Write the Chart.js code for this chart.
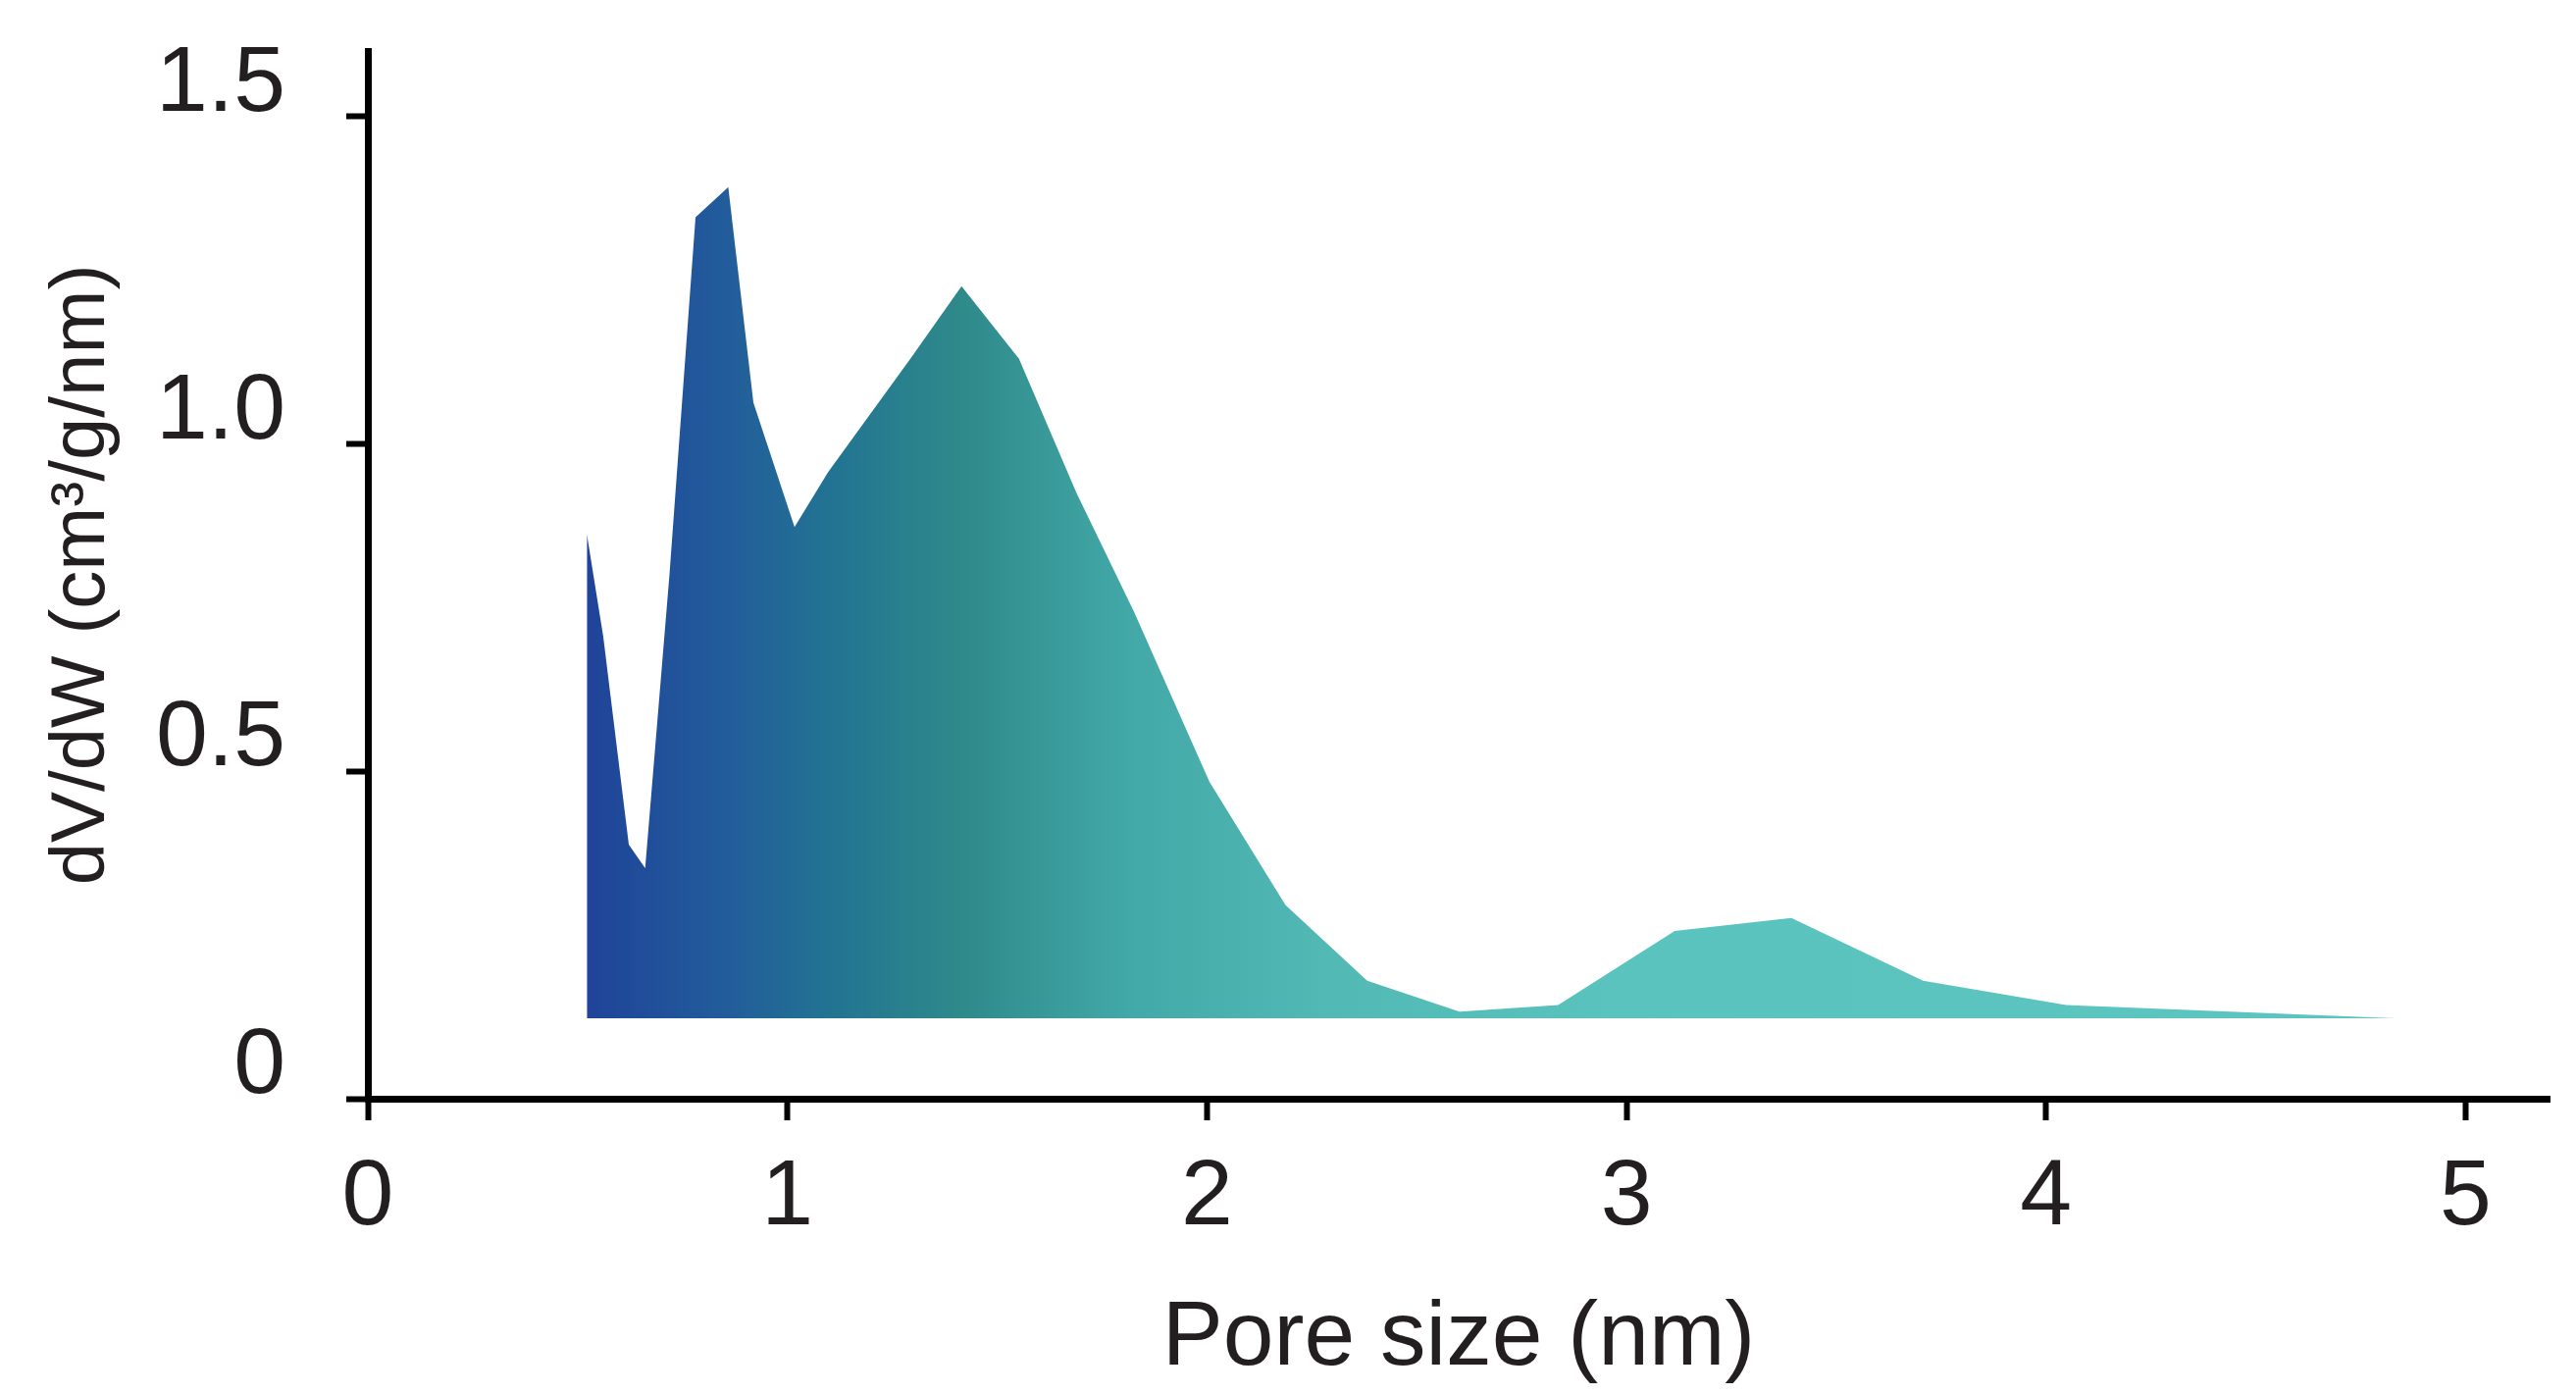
<!DOCTYPE html>
<html lang="en">
<head>
  <meta charset="UTF-8">
  <title>Pore size distribution</title>
  <script src="https://cdn.jsdelivr.net/npm/chart.js"></script>
  <style>
    html, body {
      margin: 0;
      padding: 0;
      background: #fff;
    }
    canvas {
      display: block;
    }
  </style>
</head>
<body>
  <canvas id="chart" width="2626" height="1421"></canvas>

  <script>
    // data
    const poreSize = [0.522, 0.561, 0.622, 0.661, 0.719, 0.781, 0.859, 0.919, 1.017, 1.097, 1.293, 1.415, 1.552, 1.689, 1.826, 2.006, 2.187, 2.382, 2.602, 2.837, 3.115, 3.393, 3.707, 4.048, 4.832];
    const dvdw = [0.862, 0.706, 0.388, 0.352, 0.801, 1.346, 1.392, 1.063, 0.873, 0.957, 1.130, 1.241, 1.130, 0.925, 0.744, 0.484, 0.296, 0.180, 0.133, 0.143, 0.256, 0.276, 0.180, 0.143, 0.123];
    const baseline = 0.123;

    const xTicks = [0, 1, 2, 3, 4, 5];
    const xTickLabels = ['0', '1', '2', '3', '4', '5'];
    const yTicks = [0, 0.5, 1.0, 1.5];
    const yTickLabels = ['0', '0.5', '1.0', '1.5'];

    // colour ramp, left to right along the x axis
    const rampAt = [0.52, 0.85, 1.12, 1.42, 1.82, 2.3, 3.0, 4.83];
    const rampColors = ['#1f4399', '#225c9b', '#227592', '#2f8a8a', '#42a9a8', '#52b9b5', '#5ac3bd', '#5cc5bf'];

    const textColor = '#231f20';
    const fontFamily = '"Liberation Sans", Arial, Helvetica, sans-serif';

    function ramp(context) {
      const chart = context.chart;
      const area = chart.chartArea;
      if (!area) return rampColors[0];
      const x = chart.scales.x;
      const x0 = x.getPixelForValue(rampAt[0]);
      const x1 = x.getPixelForValue(rampAt[rampAt.length - 1]);
      const g = chart.ctx.createLinearGradient(x0, 0, x1, 0);
      rampAt.forEach((v, i) => {
        g.addColorStop((v - rampAt[0]) / (rampAt[rampAt.length - 1] - rampAt[0]), rampColors[i]);
      });
      return g;
    }

    const ctx = document.getElementById('chart').getContext('2d');

    new Chart(ctx, {
      type: 'line',
      data: {
        datasets: [{
          data: poreSize.map((x, i) => ({ x: x, y: dvdw[i] })),
          fill: { value: baseline },
          backgroundColor: ramp,
          borderWidth: 0,
          pointRadius: 0,
          tension: 0
        }]
      },
      options: {
        responsive: false,
        animation: false,
        devicePixelRatio: 1,
        layout: {
          padding: { left: 0, right: 27, top: 52, bottom: 0 }
        },
        plugins: {
          legend: { display: false },
          tooltip: { enabled: false }
        },
        scales: {
          x: {
            type: 'linear',
            min: 0,
            max: 5.2,
            afterBuildTicks: (s) => { s.ticks = xTicks.map(v => ({ value: v })); },
            afterFit: (s) => { s.height = 301; s.paddingLeft = 0; s.paddingRight = 0; },
            border: { display: true, color: '#000', width: 7 },
            grid: {
              drawOnChartArea: false,
              drawTicks: true,
              tickLength: 22,
              tickWidth: 6,
              tickColor: '#000'
            },
            ticks: {
              color: textColor,
              font: { family: fontFamily, size: 95 },
              padding: 23,
              maxRotation: 0,
              callback: (v) => xTickLabels[xTicks.indexOf(v)]
            },
            title: {
              display: true,
              text: 'Pore size (nm)',
              color: textColor,
              font: { family: fontFamily, size: 93 },
              padding: { top: 0, bottom: 0 }
            }
          },
          y: {
            type: 'linear',
            min: 0,
            max: 1.6,
            afterBuildTicks: (s) => { s.ticks = yTicks.map(v => ({ value: v })); },
            afterFit: (s) => { s.width = 375; s.paddingTop = 0; s.paddingBottom = 0; },
            border: { display: true, color: '#000', width: 7 },
            grid: {
              drawOnChartArea: false,
              drawTicks: true,
              tickLength: 22,
              tickWidth: 6,
              tickColor: '#000'
            },
            ticks: {
              color: textColor,
              font: { family: fontFamily, size: 95 },
              padding: 62,
              labelOffset: -32,
              callback: (v) => yTickLabels[yTicks.indexOf(v)]
            },
            title: {
              display: true,
              text: 'dV/dW (cm\u00b3/g/nm)',
              color: textColor,
              font: { family: fontFamily, size: 78 },
              padding: { top: 38, bottom: 0 }
            }
          }
        }
      }
    });
  </script>
</body>
</html>
